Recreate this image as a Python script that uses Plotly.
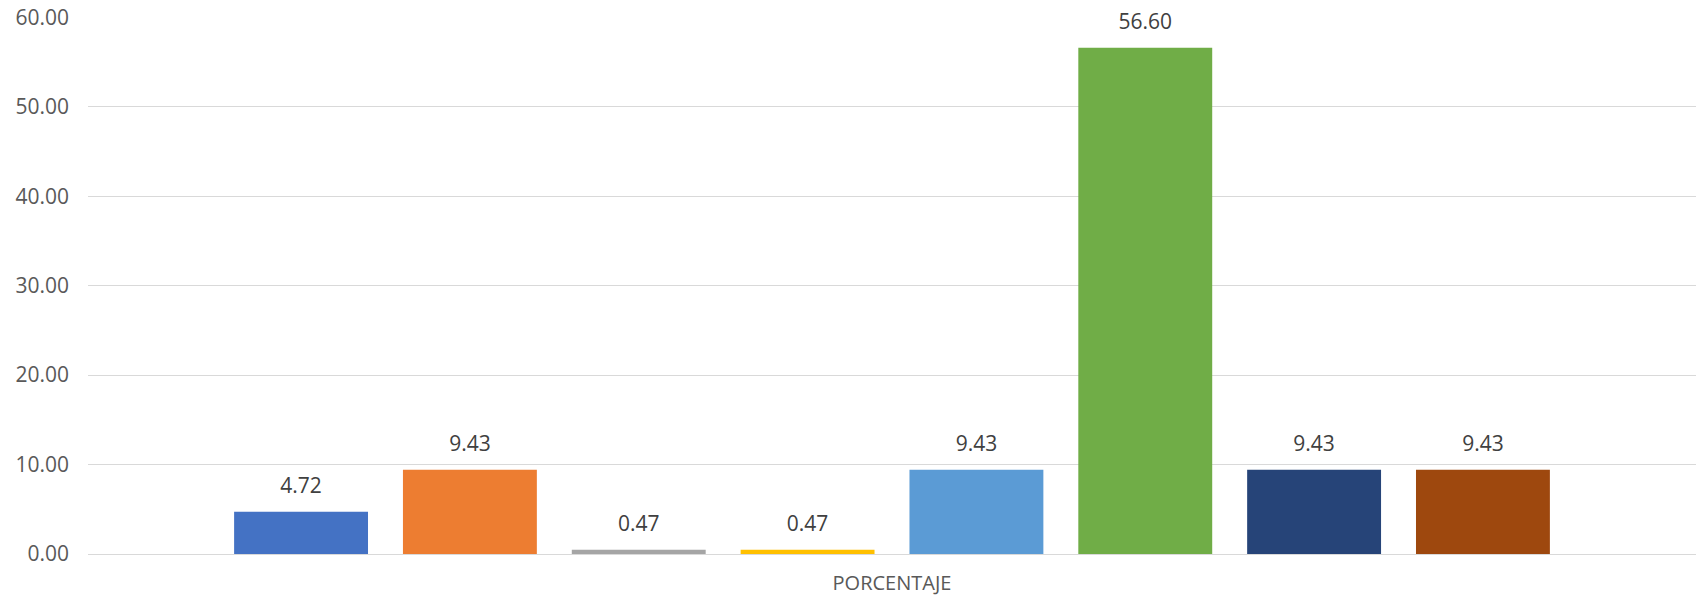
import plotly.graph_objects as go

category = ["PORCENTAJE"]
series_names = ["Serie 1", "Serie 2", "Serie 3", "Serie 4", "Serie 5", "Serie 6", "Serie 7", "Serie 8"]
values = [4.72, 9.43, 0.47, 0.47, 9.43, 56.60, 9.43, 9.43]
colors = ["#4472C4", "#ED7D31", "#A5A5A5", "#FFC000", "#5B9BD5", "#70AD47", "#264478", "#9E480E"]

fig = go.Figure()
for name, val, col in zip(series_names, values, colors):
    fig.add_trace(go.Bar(
        x=category, y=[val], name=name,
        marker=dict(color=col, line=dict(width=0)),
        hovertemplate="%{y:.2f}<extra>" + name + "</extra>",
    ))
# value labels: invisible markers in group mode so the text sits a bit above each bar
for name, val in zip(series_names, values):
    fig.add_trace(go.Scatter(
        x=category, y=[val], mode="markers+text", name=name,
        marker=dict(size=20, opacity=0),
        text=[f"{val:.2f}"], textposition="top center",
        textfont=dict(family="Open Sans", size=21, color="#404040"),
        cliponaxis=False, hoverinfo="skip",
    ))

fig.update_layout(
    width=1696, height=598,
    margin=dict(l=88, r=0, t=17, b=44),
    paper_bgcolor="white", plot_bgcolor="white",
    barmode="group", bargap=0.16, bargroupgap=0.207,
    scattermode="group", scattergap=0.16,
    showlegend=False,
    font=dict(family="Open Sans", color="#595959"),
)
fig.update_yaxes(
    range=[0, 60.03], tick0=0, dtick=10, tickformat=".2f",
    showgrid=True, gridcolor="#D9D9D9", gridwidth=1.3,
    zeroline=True, zerolinecolor="#D9D9D9", zerolinewidth=1.3,
    showline=False, ticks="", ticklabelstandoff=18, automargin=False,
    ticklabeloverflow="allow",
    tickfont=dict(family="Open Sans", size=21, color="#595959"),
)
fig.update_xaxes(
    showgrid=False, showline=False, ticks="",
    ticklabelstandoff=15, automargin=False,
    tickfont=dict(family="Open Sans", size=20, color="#595959"),
)

# drop the browser's default 8px body margin so the chart sits at the page corner
fig.write_html("out.html", config={"displayModeBar": False},
               post_script="document.body.style.margin='0px';")
